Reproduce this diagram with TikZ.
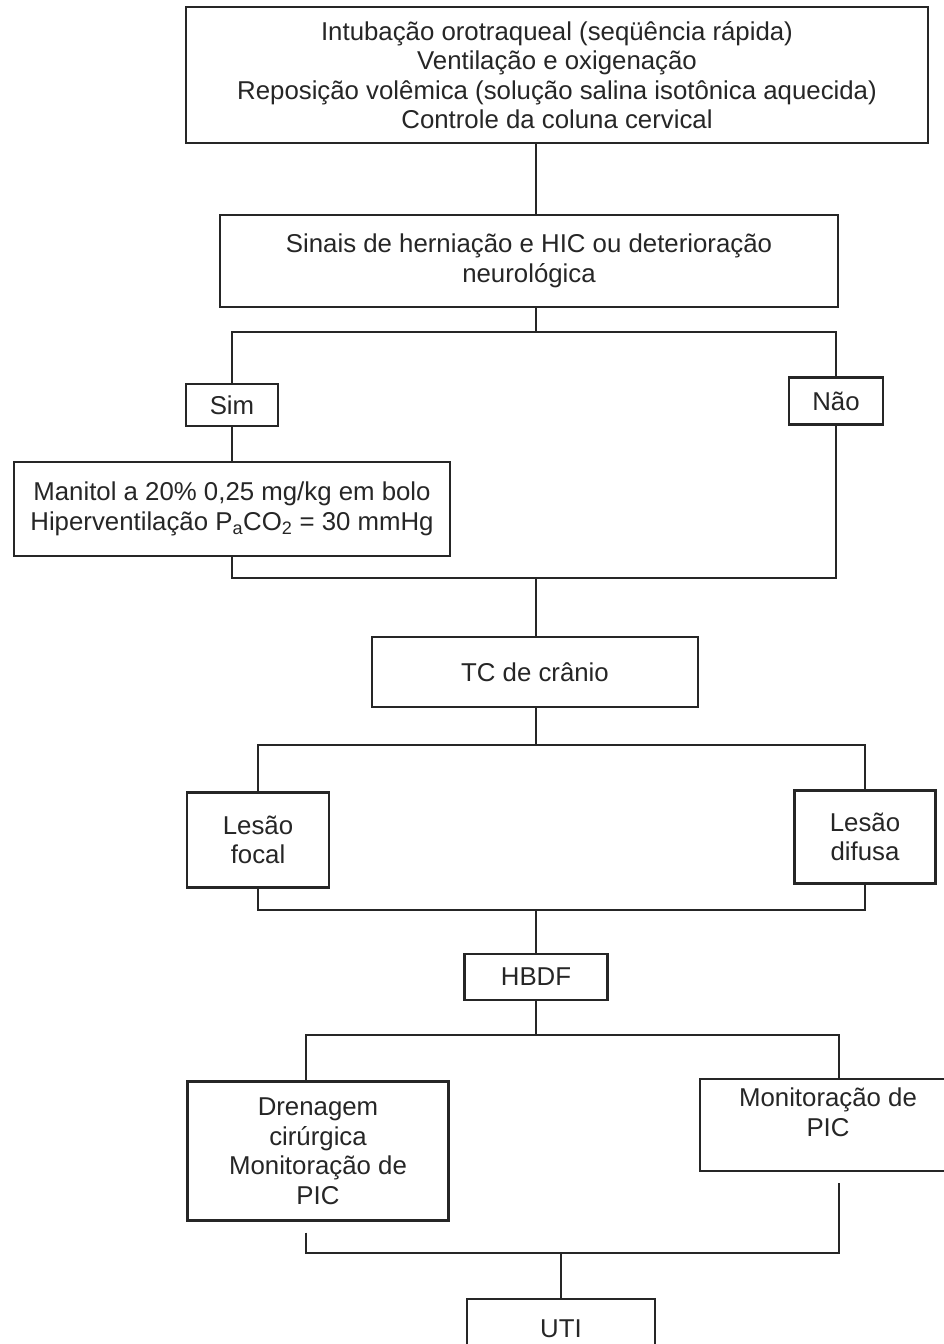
\documentclass[tikz,border=0pt]{standalone}
\usepackage{fontspec}
\setmainfont{Liberation Sans}
\definecolor{ink}{HTML}{262626}
\begin{document}
\begin{tikzpicture}[x=1pt,y=-1pt,
  box/.style={draw=ink, line width=2.3pt, inner sep=0pt, align=center,
    text=ink, font=\fontsize{25.8}{29.5}\selectfont},
  link/.style={draw=ink, line width=2.3pt}]
\useasboundingbox (0,0) rectangle (944,1344);
\fill[white] (0,0) rectangle (944,1344);

% boxes
\node[box, minimum width=742, minimum height=136] (top) at (557,75)
  {Intubação orotraqueal (seqüência rápida)\\Ventilação e oxigenação\\
   Reposição volêmica (solução salina isotônica aquecida)\\Controle da coluna cervical};
\node[box, minimum width=618, minimum height=92] (sinais) at (529,261)
  {Sinais de herniação e HIC ou deterioração\\neurológica};
\node[box, minimum width=92, minimum height=42] (sim) at (232,405) {Sim};
\node[box, minimum width=94, minimum height=47] (nao) at (836,401) {Não};
\node[box, minimum width=436, minimum height=94] (manitol) at (232,509)
  {Manitol a 20\% 0,25 mg/kg em bolo\\Hiperventilação P\textsubscript{a}CO\textsubscript{2} = 30 mmHg};
\node[box, minimum width=326, minimum height=70] (tc) at (535,672) {TC de crânio};
\node[box, minimum width=142, minimum height=95] (focal) at (258,840) {Lesão\\focal};
\node[box, minimum width=141, minimum height=93] (difusa) at (865,837) {Lesão\\difusa};
\node[box, minimum width=143, minimum height=46] (hbdf) at (536,977) {HBDF};
\node[box, minimum width=261, minimum height=139] (dren) at (318,1151)
  {Drenagem\\cirúrgica\\Monitoração de\\PIC};
\node[box, minimum width=256, minimum height=92] (mon) at (828,1125)
  {Monitoração de\\PIC\\[-4pt]};
\node[box, minimum width=188, minimum height=60] (uti) at (561,1329) {UTI};

% junction points
\coordinate (s1) at (536,332);
\coordinate (j2) at (536,578);
\coordinate (j3) at (536,745);
\coordinate (j4) at (536,910);
\coordinate (dl) at (306,1035);
\coordinate (dr) at (839,1035);
\coordinate (el) at (306,1253);
\coordinate (er) at (839,1253);
\coordinate (u) at (561,1253);

% connectors
\draw[link] (top.south -| s1) -- (sinais.north -| s1);
\draw[link] (sinais.south -| s1) -- (s1);
\draw[link] (sim.north) -- (sim.north |- s1) -- (nao.north |- s1) -- (nao.north);
\draw[link] (sim.south) -- (manitol.north -| sim.south);
\draw[link] (manitol.south) -- (manitol.south |- j2) -- (nao.south |- j2) -- (nao.south);
\draw[link] (j2) -- (tc.north -| j2);
\draw[link] (tc.south -| j3) -- (j3);
\draw[link] (focal.north) -- (focal.north |- j3) -- (difusa.north |- j3) -- (difusa.north);
\draw[link] (focal.south) -- (focal.south |- j4) -- (difusa.south |- j4) -- (difusa.south);
\draw[link] (j4) -- (hbdf.north -| j4);
\draw[link] (hbdf.south -| j4) -- (j4 |- dl);
\draw[link] (dren.north -| dl) -- (dl) -- (dr) -- (mon.north -| dr);
\draw[link] ([yshift=-11pt]dren.south -| el) -- (el) -- (er) -- ([yshift=-11pt]mon.south -| er);
\draw[link] (u) -- (uti.north -| u);
\end{tikzpicture}
\end{document}
